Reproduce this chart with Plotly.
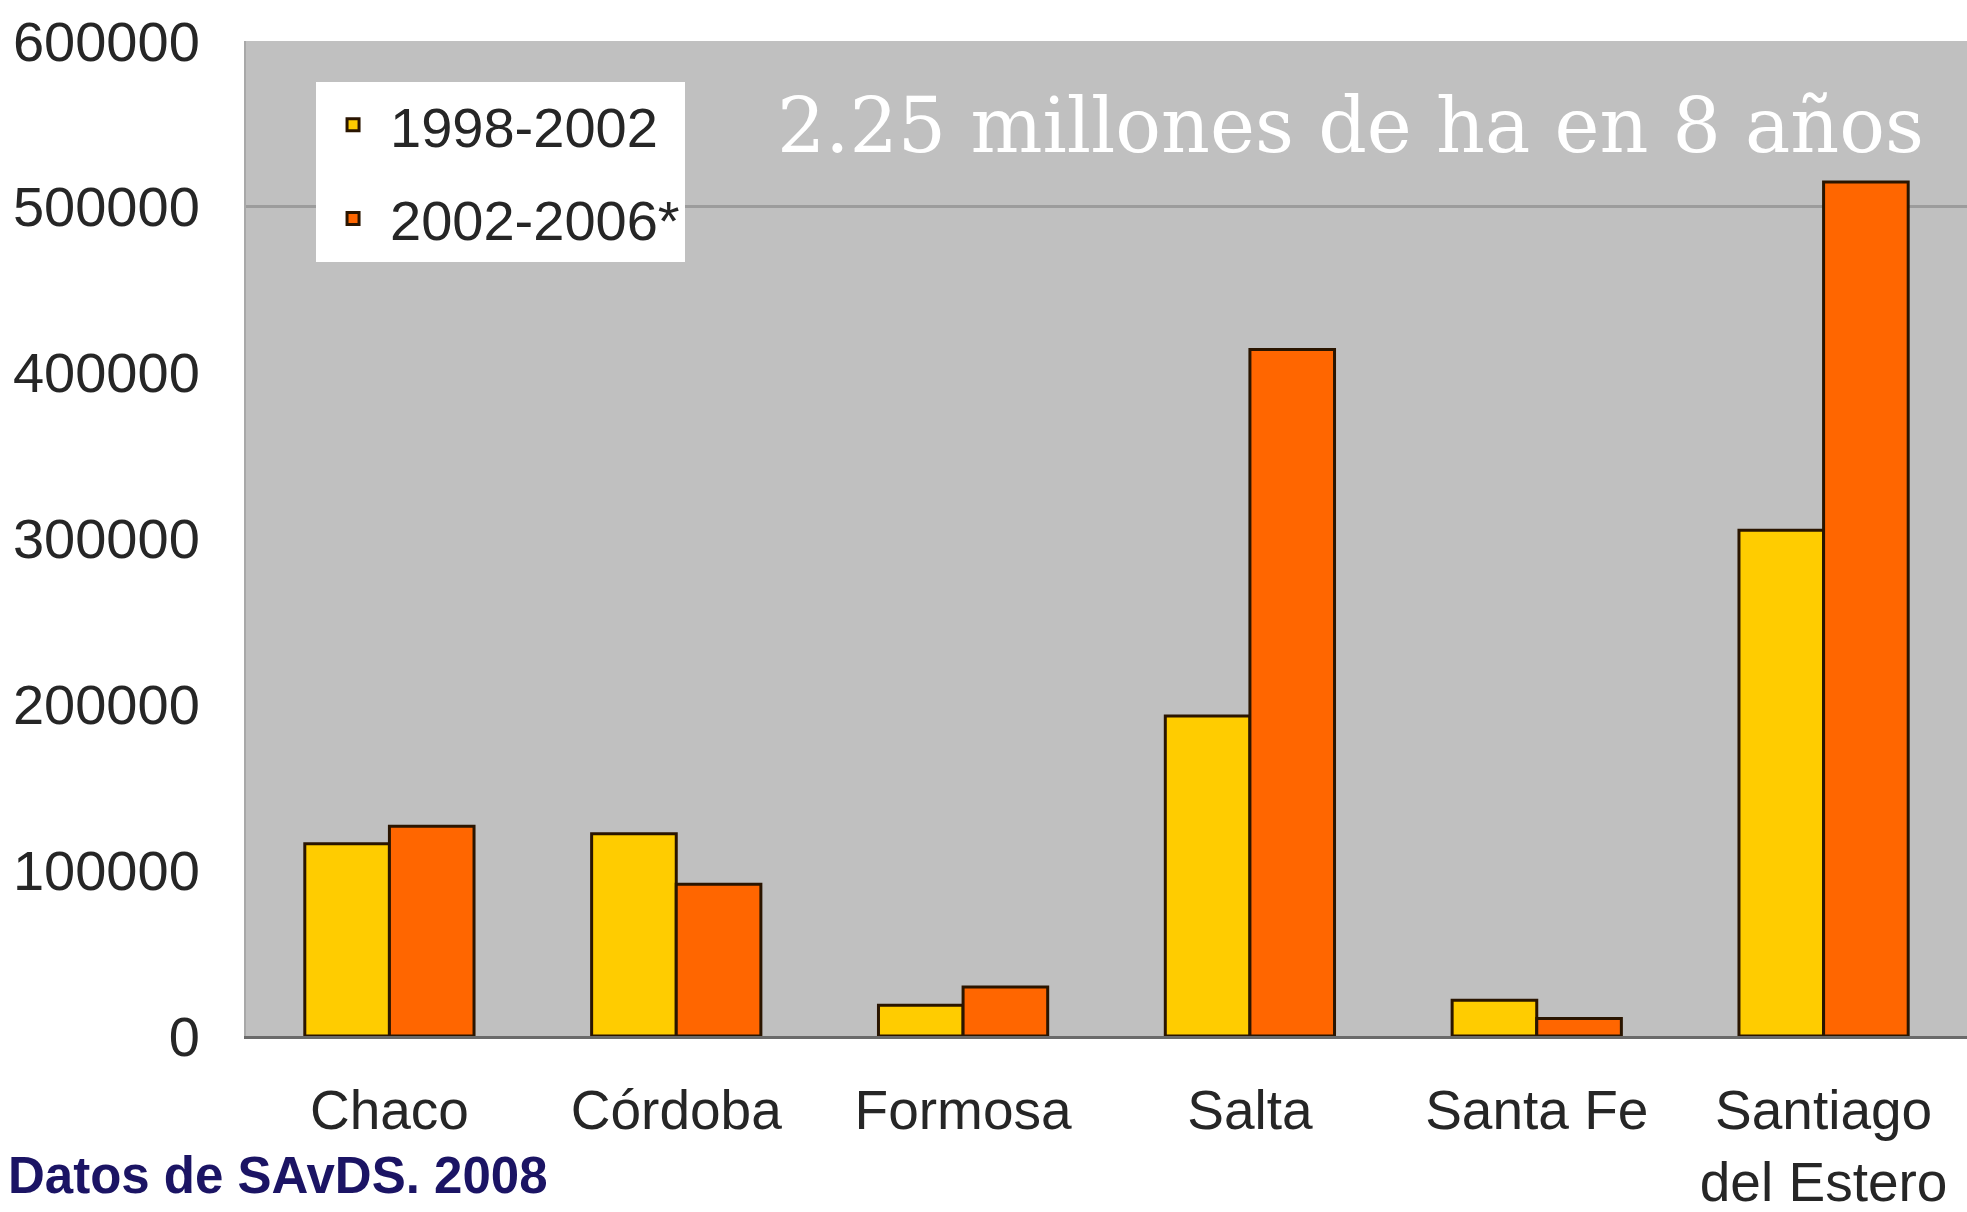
import plotly.graph_objects as go

provinces = ["Chaco", "Córdoba", "Formosa", "Salta", "Santa Fe", "Santiago<br>del Estero"]
series_names = ["1998-2002", "2002-2006*"]
values_1998_2002 = [116000, 122000, 18500, 193000, 21500, 305000]
values_2002_2006 = [126500, 91500, 29500, 414000, 10500, 515000]
y_ticks = [0, 100000, 200000, 300000, 400000, 500000, 600000]
grid_ticks = [500000, 600000]

title_text = "2.25 millones de ha en 8 años"
source_text = "Datos de SAvDS. 2008"

colors = ["#FFCC00", "#FF6600"]
font_sans = "Liberation Sans, Arial, sans-serif"

fig = go.Figure()
for name, vals, col, grp in zip(series_names, [values_1998_2002, values_2002_2006], colors, ["a", "b"]):
    fig.add_trace(go.Bar(
        x=provinces, y=vals, name=name, legendgroup=grp,
        marker=dict(color=col, line=dict(color="#2a1500", width=3)),
    ))

# overlay axis used only to draw the two visible horizontal grid lines
fig.add_trace(go.Scatter(x=[provinces[0]], y=[None], yaxis="y2", showlegend=False, hoverinfo="skip"))

fig.update_layout(
    width=1967, height=1212,
    paper_bgcolor="white", plot_bgcolor="#C0C0C0",
    margin=dict(l=246, r=0, t=41, b=176, pad=0),
    barmode="group", bargap=0.41, bargroupgap=0,
    font=dict(family=font_sans, size=56, color="#262626"),
    xaxis=dict(
        type="category", range=[-0.5, 5.5], showgrid=False, automargin=False,
        ticks="", ticklabelstandoff=24,
        showline=True, linecolor="#6A6A6A", linewidth=3,
        tickfont=dict(size=55, color="#262626"),
    ),
    yaxis=dict(
        range=[0, 600000], tickvals=y_ticks, ticktext=[str(v) for v in y_ticks],
        showgrid=False, zeroline=False, ticks="", ticklabelstandoff=33, automargin=False,
        showline=True, linecolor="#A8A8A8", linewidth=2,
        tickfont=dict(size=56, color="#262626"),
    ),
    yaxis2=dict(
        overlaying="y", range=[0, 600000], tickvals=grid_ticks, automargin=False,
        showgrid=True, gridcolor="#9C9C9C", gridwidth=3,
        showticklabels=False, ticks="", zeroline=False, showline=False,
    ),
    legend=dict(
        x=0.0407, y=0.959, xanchor="left", yanchor="top",
        bgcolor="white", borderwidth=0,
        font=dict(size=56, color="#262626", family=font_sans),
        tracegroupgap=18, itemwidth=64,
    ),
    annotations=[
        dict(text=title_text, xref="paper", yref="paper", x=0.976, y=0.915,
             xanchor="right", yanchor="middle", showarrow=False,
             font=dict(family="DejaVu Serif, serif", size=76, color="white")),
        dict(text="<b>" + source_text + "</b>", xref="paper", yref="paper", x=-0.1395, y=-0.171,
             xanchor="left", yanchor="bottom", showarrow=False,
             font=dict(family=font_sans, size=51, color="#1B1464")),
    ],
)

fig.write_html(
    "out.html",
    config={"displayModeBar": False},
    post_script="document.body.style.margin='0';document.documentElement.style.overflow='hidden';document.body.style.overflow='hidden';",
)
